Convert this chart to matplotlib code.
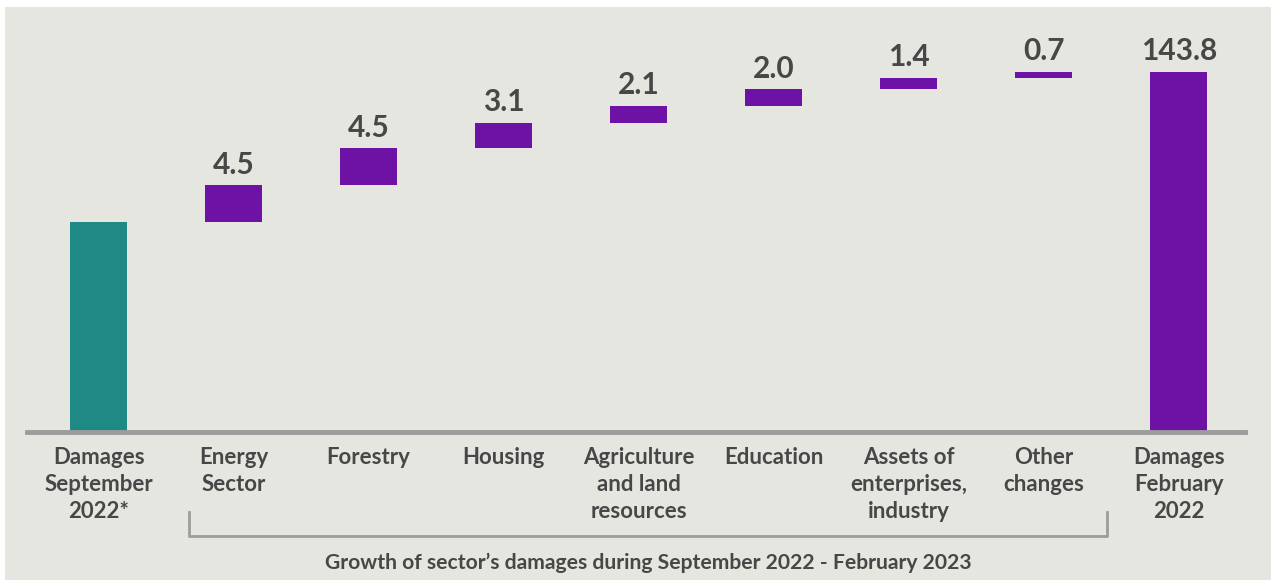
import matplotlib.pyplot as plt
from matplotlib.patches import Rectangle
from matplotlib.transforms import blended_transform_factory

plt.rcParams['font.family'] = ['Lato', 'DejaVu Sans']

# waterfall data (UAH bn)
categories = ['Damages\nSeptember\n2022*', 'Energy\nSector', 'Forestry', 'Housing',
              'Agriculture\nand land\nresources', 'Education', 'Assets of\nenterprises,\nindustry',
              'Other\nchanges', 'Damages\nFebruary\n2022']
increments = [4.5, 4.5, 3.1, 2.1, 2.0, 1.4, 0.7]
total = 143.8
start = round(total - sum(increments), 1)
axis_floor = 100

teal = '#1f8985'
purple = '#6e12a5'
text_col = '#474747'
line_col = '#9c9c9c'

fig = plt.figure(figsize=(12.71, 5.80), dpi=100)
fig.patch.set_facecolor('white')
fig.patches.append(Rectangle((5 / 1271, 0), 1, 573 / 580, transform=fig.transFigure,
                             facecolor='#e6e6e1', edgecolor='none', zorder=-10))

ax = fig.add_axes([27 / 1271, 148 / 580, 1218 / 1271, 425 / 580])
ax.set_facecolor('none')

w = 0.42
# starting total
ax.bar(0, start - axis_floor, bottom=axis_floor, width=w, color=teal)

# increments stacked on the running total
running = start
for i, v in enumerate(increments, start=1):
    ax.bar(i, v, bottom=running, width=w, color=purple)
    ax.text(i, running + v + 0.8, f'{v:.1f}', ha='center', va='bottom',
            fontsize=21.5, fontweight='bold', color=text_col)
    running += v

# closing total
n = len(categories) - 1
ax.bar(n, total - axis_floor, bottom=axis_floor, width=w, color=purple)
ax.text(n, total + 0.8, f'{total:.1f}', ha='center', va='bottom',
        fontsize=21.5, fontweight='bold', color=text_col)

ax.set_xlim(-0.53, 8.49)
ax.set_ylim(axis_floor, axis_floor + 425 / 8.22)
ax.set_yticks([])
ax.set_xticks(range(len(categories)))
ax.set_xticklabels(categories, fontsize=16, fontweight='bold', color=text_col,
                   linespacing=1.35, va='top')
ax.tick_params(axis='x', length=0, pad=11)
for s in ['top', 'left', 'right']:
    ax.spines[s].set_visible(False)
ax.spines['bottom'].set_color(line_col)
ax.spines['bottom'].set_linewidth(3.5)

# bracket under the sector columns
tr = blended_transform_factory(ax.transData, fig.transFigure)
bx0, bx1 = 0.667, 7.47
y_top, y_bot = (580 - 512) / 580, (580 - 536) / 580
ax.plot([bx0, bx0, bx1, bx1], [y_top, y_bot, y_bot, y_top], color=line_col,
        lw=2, transform=tr, clip_on=False)
ax.text((bx0 + bx1) / 2, (580 - 563) / 580,
        'Growth of sector\u2019s damages during September 2022 - February 2023',
        transform=tr, ha='center', va='center', fontsize=15.2, fontweight='bold',
        color=text_col)

plt.savefig('out.png', dpi=100, facecolor=fig.get_facecolor())
plt.close()
